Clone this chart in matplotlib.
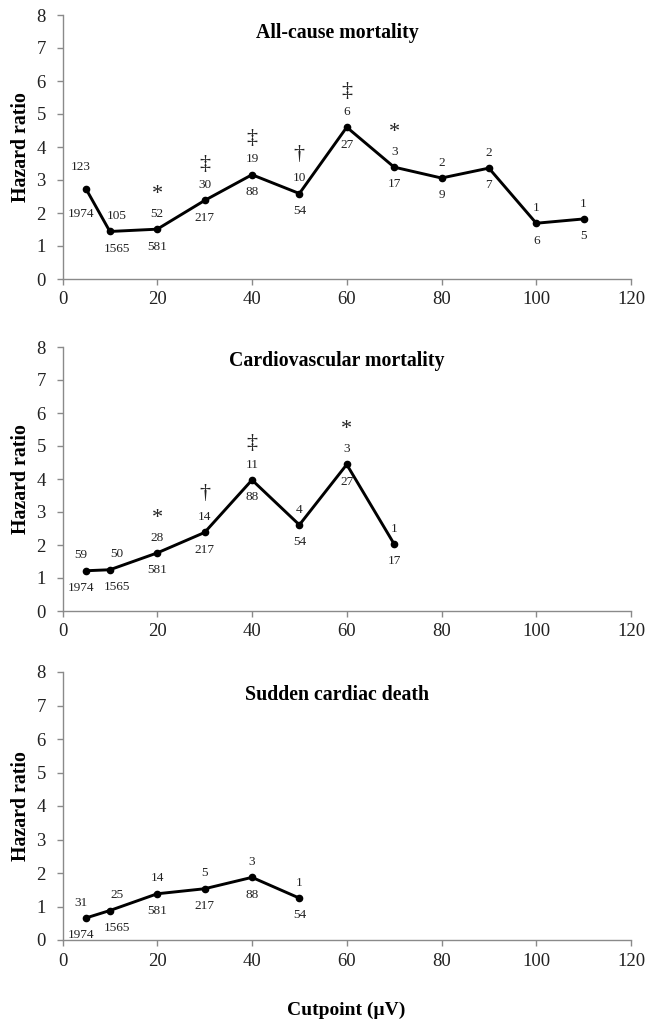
import matplotlib
matplotlib.use("Agg")
import matplotlib.pyplot as plt

plt.rcParams['font.family'] = ['Liberation Serif', 'DejaVu Serif']

# cutpoints (uV), hazard ratios, events (above), n at risk (below), significance marks
ac_x = [5, 10, 20, 30, 40, 50, 60, 70, 80, 90, 100, 110]
ac_hr = [2.72, 1.44, 1.51, 2.38, 3.16, 2.59, 4.60, 3.39, 3.06, 3.36, 1.69, 1.82]
ac_events = [123, 105, 52, 30, 19, 10, 6, 3, 2, 2, 1, 1]
ac_n = [1974, 1565, 581, 217, 88, 54, 27, 17, 9, 7, 6, 5]
ac_sig = ['', '', '*', '‡', '‡', '†', '‡', '*', '', '', '', '']

cv_x = [5, 10, 20, 30, 40, 50, 60, 70]
cv_hr = [1.22, 1.25, 1.76, 2.38, 3.97, 2.61, 4.44, 2.03]
cv_events = [59, 50, 28, 14, 11, 4, 3, 1]
cv_n = [1974, 1565, 581, 217, 88, 54, 27, 17]
cv_sig = ['', '', '*', '†', '‡', '', '*', '']

scd_x = [5, 10, 20, 30, 40, 50]
scd_hr = [0.66, 0.88, 1.38, 1.53, 1.87, 1.25]
scd_events = [31, 25, 14, 5, 3, 1]
scd_n = [1974, 1565, 581, 217, 88, 54]
scd_sig = ['', '', '', '', '', '']

titles = ['All-cause mortality', 'Cardiovascular mortality', 'Sudden cardiac death']
x_ticks = [0, 20, 40, 60, 80, 100, 120]
y_ticks = [0, 1, 2, 3, 4, 5, 6, 7, 8]

panels = [
    (ac_x, ac_hr, ac_events, ac_n, ac_sig),
    (cv_x, cv_hr, cv_events, cv_n, cv_sig),
    (scd_x, scd_hr, scd_events, scd_n, scd_sig),
]

W, H = 647, 1022
fig = plt.figure(figsize=(W / 100, H / 100), dpi=100)

# axes boxes in pixels: (left, top, right, bottom)
boxes = [(62.5, 15, 631, 279), (62.5, 347, 631, 611), (62.5, 672, 631, 940)]
title_y = [33, 361, 695]
grey = '#8a8a8a'
txt = '#222222'

for i, (box, data) in enumerate(zip(boxes, panels)):
    l, t, r, b = box
    ax = fig.add_axes([l / W, 1 - b / H, (r - l) / W, (b - t) / H])
    xs, hr, ev, n, sig = data
    ax.plot(xs, hr, color='black', lw=2.1, marker='o', ms=4.5, zorder=3)

    for j, (x, y) in enumerate(zip(xs, hr)):
        dx = 0
        up, down = 11, -12.5
        if x == 5:
            dx = -4
            if i == 0:
                up, down = 16, -18
        elif x == 10:
            dx = 5
        ax.annotate(str(ev[j]), (x, y), xytext=(dx, up), textcoords='offset points',
                    ha='center', va='center', fontsize=9.5, color=txt)
        ax.annotate(str(n[j]), (x, y), xytext=(dx, down), textcoords='offset points',
                    ha='center', va='center', fontsize=9.5, color=txt)
        if sig[j]:
            off = {'*': 25, '†': 28, '‡': 26}[sig[j]]
            ax.annotate(sig[j], (x, y), xytext=(0, off), textcoords='offset points',
                        ha='center', va='center', fontsize=16, color=txt)

    ax.set_xlim(0, 120)
    ax.set_ylim(0, 8)
    ax.set_xticks(x_ticks)
    ax.set_yticks(y_ticks)
    ax.tick_params(axis='both', colors=grey, labelcolor=txt, labelsize=13.5,
                   length=4, width=1, direction='out')
    ax.tick_params(axis='x', pad=5)
    ax.tick_params(axis='y', pad=8)
    for s in ['top', 'right']:
        ax.spines[s].set_visible(False)
    for s in ['left', 'bottom']:
        ax.spines[s].set_color(grey)
        ax.spines[s].set_linewidth(1)
    ax.set_facecolor('none')

    fig.text(337 / W, 1 - title_y[i] / H, titles[i], ha='center', va='center',
             fontsize=14.3, fontweight='bold')
    fig.text(21 / W, 1 - (t + b) / 2 / H, 'Hazard ratio', ha='center', va='center',
             rotation=90, fontsize=14.3, fontweight='bold')

fig.text(346 / W, 1 - 1010 / H, 'Cutpoint (µV)', ha='center', va='center',
         fontsize=14, fontweight='bold')

fig.savefig('out.png', dpi=100)
